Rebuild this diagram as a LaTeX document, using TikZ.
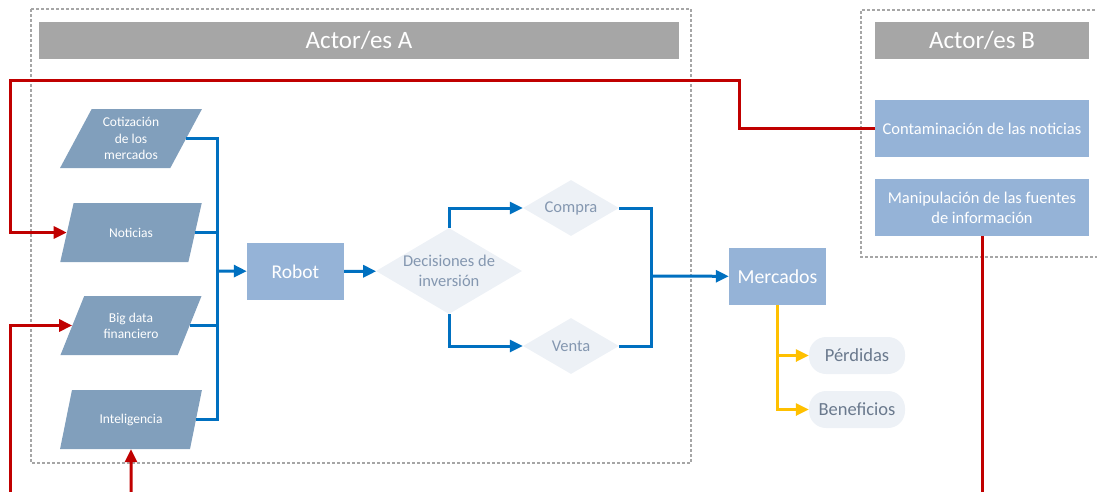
\documentclass[tikz,border=0pt]{standalone}
\usepackage{fontspec}
\setmainfont{Carlito}
\usetikzlibrary{arrows.meta,positioning,shapes.geometric}
\definecolor{frame}{HTML}{A6A6A6}
\definecolor{banner}{HTML}{A6A6A6}
\definecolor{slate}{HTML}{819FBC}
\definecolor{boxblue}{HTML}{95B3D7}
\definecolor{pale}{HTML}{EDF1F6}
\definecolor{paletext}{HTML}{8497B0}
\definecolor{flow}{HTML}{0070C0}
\definecolor{alarm}{HTML}{C00000}
\definecolor{gold}{HTML}{FFC000}
\newcommand{\FS}[1]{\fontsize{#1}{\dimexpr #1pt*6/5\relax}\selectfont}

\begin{document}
\begin{tikzpicture}[x=1pt, y=-1pt,
    zone/.style={draw=frame, line width=1.4pt, dash pattern=on 3pt off 2pt},
    banner/.style={fill=banner, text=white, minimum height=37pt, inner sep=0pt, font=\FS{25}},
    block/.style={fill=boxblue, text=white, minimum height=57pt, inner sep=0pt, align=center},
    source/.style={trapezium, trapezium left angle=61.5, trapezium right angle=118.5, trapezium stretches=true,
      minimum width=142pt, minimum height=59pt, inner sep=0pt, fill=slate, text=white, align=center, font=\FS{13.5}},
    choice/.style={diamond, fill=pale, text=paletext, inner sep=0pt, aspect=1.7, align=center, font=\FS{16.5}},
    result/.style={fill=pale, text=paletext!80!black, rounded corners=17pt, minimum width=96pt, minimum height=37pt, font=\FS{18.5}},
    flowline/.style={draw=flow, line width=3pt},
    flowto/.style={flowline, -{Triangle[length=13pt,width=12pt]}},
    goldto/.style={draw=gold, line width=3pt, -{Triangle[length=13pt,width=12pt]}},
    attack/.style={draw=alarm, line width=3pt},
    attackto/.style={attack, -{Triangle[length=13pt,width=12pt]}},
  ]
\useasboundingbox (0,0) rectangle (1097,491);

% --- Frames -------------------------------------------------------------------
\draw[zone] (31,9) rectangle (691,463);
\draw[zone] (1100,10) -- (861,10) -- (861,257) -- (1100,257);
\node[banner, minimum width=640pt] (titleA) at (359,40.5) {Actor/es A};
\node[banner, minimum width=214pt] (titleB) at (982,40.5) {Actor/es B};

% --- Actor/es B ----------------------------------------------------------------
\node[block, minimum width=214pt, font=\FS{16.5}] (contam) at (982,128.5) {Contaminación de las noticias};
\node[block, minimum width=214pt, font=\FS{16.5}] (manip) at (982,207.5) {Manipulación de las fuentes\\de información};

% --- Inputs of the robot ------------------------------------------------------
\foreach \nm/\y/\txt in {cot/138.5/{Cotización\\de los\\mercados}, noti/232.5/{Noticias},
    big/325.5/{Big data\\financiero}, intel/419.5/{Inteligencia}} {
  \node[source] (\nm) at (131,\y) {\txt};
}
\coordinate (bus) at (217,271);
\foreach \nm in {cot,noti,big,intel}
  \draw[flowline] (\nm.east) -| (bus);

% --- Robot and decisions ------------------------------------------------------
\node[block, minimum width=97pt, font=\FS{19.5}] (robot) at (295.5,271.5) {Robot};
\node[choice, minimum width=146pt, minimum height=86pt] (dec) at (449,271) {Decisiones de\\inversión};
\node[choice, minimum width=96pt, minimum height=56pt] (compra) at (571,208) {Compra};
\node[choice, minimum width=96pt, minimum height=56pt] (venta) at (571,346) {Venta};
\node[block, minimum width=97pt, font=\FS{19.8}] (merc) at (777.5,276.5) {Mercados};
\coordinate (join) at (651,276);

\draw[flowto] (bus) -- (robot);
\draw[flowto] (robot) -- (dec);
\draw[flowto] (dec.north) |- (compra);
\draw[flowto] (dec.south) |- (venta);
\draw[flowline] (compra.east) -| (join) |- (venta.east);
\draw[flowto] (join) -- (merc);

% --- Outcomes -----------------------------------------------------------------
\node[result] (perd) at (857,355.5) {Pérdidas};
\node[result] (benef) at (857,409.5) {Beneficios};
\draw[goldto] (merc.south) |- (perd);
\draw[goldto] (merc.south) |- (benef);

% --- Interference from outside ------------------------------------------------
\coordinate (topA) at (739,80);
\coordinate (leftA) at (10,80);
\coordinate (manipEnd) at (982,495);
\coordinate (bigEnd) at (10,495);
\coordinate (intelEnd) at (131,495);
\draw[attackto] (contam.west) -| (topA) -- (leftA) |- (noti.west);
\draw[attack] (manip.south) -- (manipEnd);
\draw[attackto] (bigEnd) |- (big.west);
\draw[attackto] (intelEnd) -- (intel.south);
\end{tikzpicture}
\end{document}
